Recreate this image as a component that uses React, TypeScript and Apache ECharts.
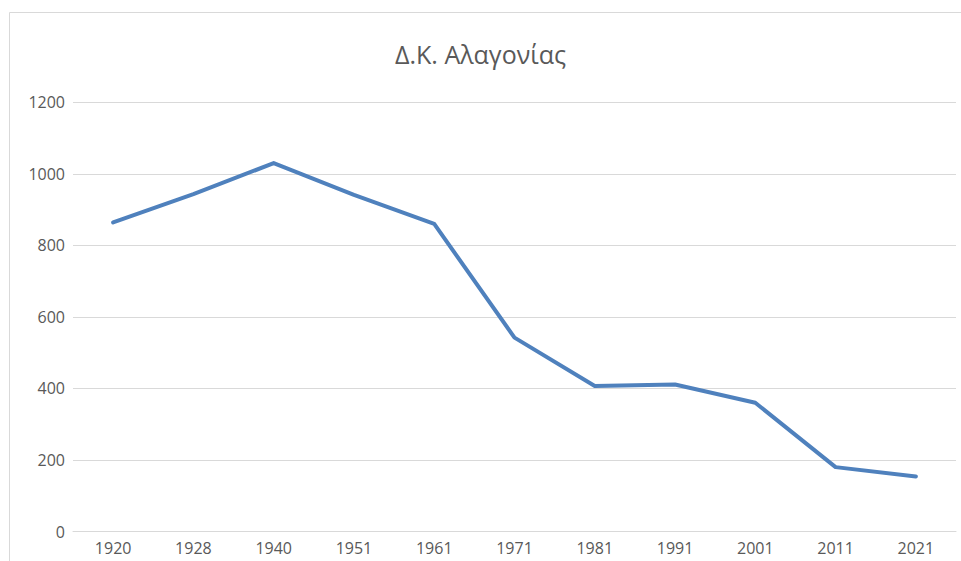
import React, { useEffect, useRef } from "react";
import * as echarts from "echarts";

const title = "Δ.Κ. Αλαγονίας";
const years = ["1920", "1928", "1940", "1951", "1961", "1971", "1981", "1991", "2001", "2011", "2021"];
const population = [864, 943, 1030, 941, 860, 542, 407, 411, 360, 180, 154];
const yTicks = { min: 0, max: 1200, interval: 200 };

export default function App() {
  const ref = useRef<HTMLDivElement>(null);
  useEffect(() => {
    const chart = echarts.init(ref.current!, null, { renderer: "svg" });
    chart.setOption({
      animation: false,
      backgroundColor: "#ffffff",
      textStyle: { fontFamily: "'Open Sans', sans-serif" },
      title: {
        text: title,
        left: "center",
        top: 36,
        textStyle: { fontSize: 25, fontWeight: "normal", color: "#595959", fontFamily: "'Open Sans', sans-serif" },
      },
      graphic: [
        {
          type: "polyline",
          shape: { points: [[9.5, 561], [9.5, 12.5], [961, 12.5]] },
          style: { stroke: "#d9d9d9", lineWidth: 1, fill: null },
        },
      ],
      grid: { left: 73, right: 5, top: 102.3, bottom: 29.5, containLabel: false },
      xAxis: {
        type: "category",
        data: years,
        boundaryGap: true,
        axisLine: { show: true, lineStyle: { color: "#d9d9d9", width: 1 } },
        axisTick: { show: false },
        axisLabel: { color: "#595959", fontSize: 16, margin: 8 },
      },
      yAxis: {
        type: "value",
        min: yTicks.min,
        max: yTicks.max,
        interval: yTicks.interval,
        axisLine: { show: false },
        axisTick: { show: false },
        axisLabel: { color: "#595959", fontSize: 16, margin: 8, formatter: (v: number) => String(v) },
        splitLine: { lineStyle: { color: "#d9d9d9", width: 1 } },
      },
      series: [
        {
          type: "line",
          data: population,
          symbol: "none",
          lineStyle: { color: "#4f81bd", width: 4, cap: "round", join: "round" },
          itemStyle: { color: "#4f81bd" },
        },
      ],
    });
    return () => chart.dispose();
  }, []);
  return <div ref={ref} style={{ position: "fixed", left: 0, top: 0, width: 961, height: 561 }} />;
}
